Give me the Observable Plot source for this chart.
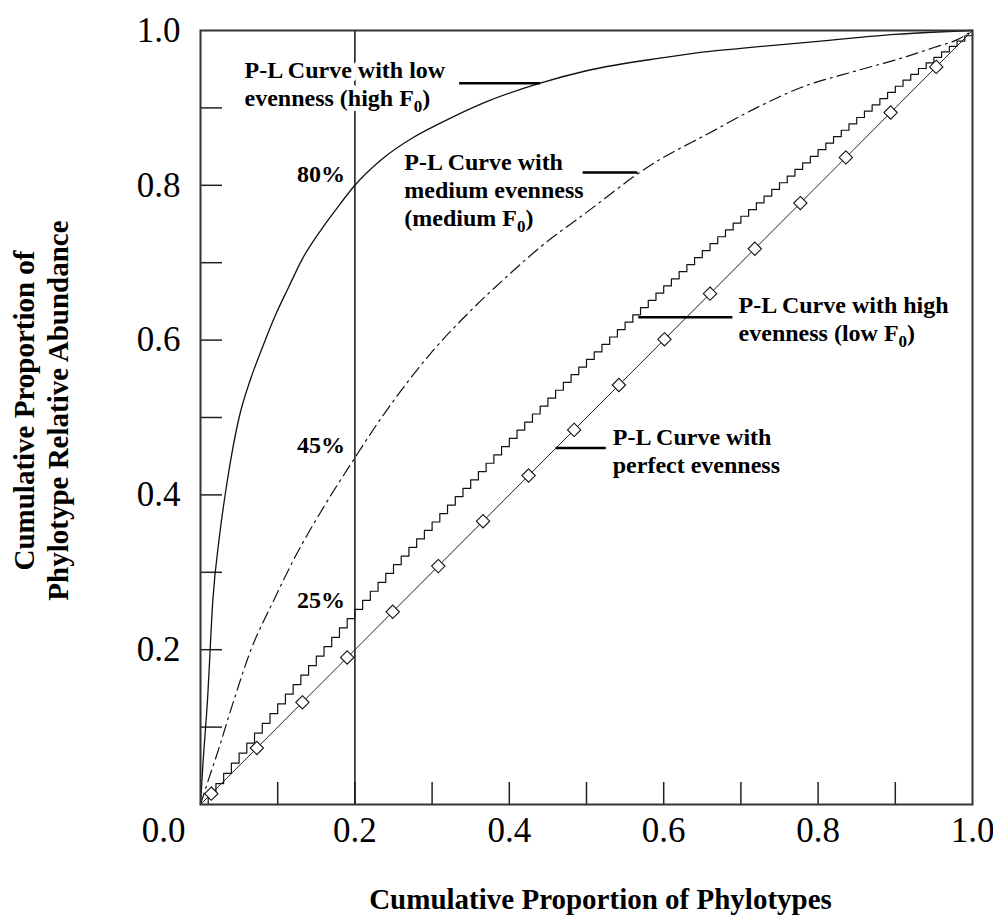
<!DOCTYPE html>
<html>
<head>
<meta charset="utf-8">
<script src="https://cdn.jsdelivr.net/npm/d3@7"></script>
<script src="https://cdn.jsdelivr.net/npm/@observablehq/plot@0.6"></script>
<style>
  html, body { margin: 0; padding: 0; background: white; }
  #chart svg { display: block; }
</style>
</head>
<body>
<div id="chart"></div>
<script>
// ---- Data ----
// Low evenness (high F0) Pareto-Lorenz curve
const lowX = [0, 0.003, 0.009, 0.016, 0.025, 0.035, 0.05, 0.065, 0.08, 0.097, 0.114, 0.132, 0.158, 0.175, 0.2, 0.233, 0.276, 0.31, 0.363, 0.44, 0.5, 0.6, 0.65, 0.7, 0.8, 0.9, 1];
const lowY = [0, 0.05, 0.134, 0.264, 0.35, 0.42, 0.5, 0.55, 0.59, 0.632, 0.668, 0.705, 0.745, 0.768, 0.8, 0.832, 0.862, 0.88, 0.905, 0.932, 0.948, 0.965, 0.972, 0.977, 0.986, 0.995, 1];
// Medium evenness (medium F0) curve
const medX = [0, 0.009, 0.023, 0.043, 0.065, 0.095, 0.12, 0.16, 0.2, 0.229, 0.26, 0.3, 0.35, 0.4, 0.44, 0.5, 0.583, 0.66, 0.72, 0.777, 0.85, 0.907, 0.95, 0.984, 1];
const medY = [0, 0.028, 0.07, 0.134, 0.199, 0.264, 0.315, 0.385, 0.448, 0.492, 0.535, 0.585, 0.638, 0.685, 0.72, 0.765, 0.826, 0.868, 0.9, 0.926, 0.948, 0.964, 0.978, 0.99, 1];
// High evenness (low F0): relative abundance (%) of the 100 ranked phylotypes
const highAbund = [
  1.36,1.34,1.33,1.31,1.30,1.29,1.28,1.27,1.26,1.26,
  1.25,1.24,1.23,1.23,1.22,1.22,1.21,1.21,1.20,1.19,
  1.18,1.17,1.16,1.14,1.13,1.12,1.11,1.10,1.10,1.09,
  1.09,1.09,1.09,1.08,1.08,1.08,1.08,1.07,1.07,1.07,
  1.06,1.05,1.04,1.03,1.02,1.02,1.01,1.00,0.99,0.98,
  0.97,0.97,0.96,0.96,0.95,0.95,0.94,0.94,0.93,0.93,
  0.92,0.92,0.91,0.91,0.90,0.90,0.89,0.89,0.88,0.88,
  0.87,0.87,0.87,0.86,0.86,0.86,0.86,0.85,0.85,0.85,
  0.84,0.84,0.83,0.83,0.82,0.82,0.81,0.81,0.80,0.80,
  0.78,0.76,0.75,0.73,0.72,0.71,0.70,0.69,0.68,0.68
];
// Perfect evenness line and its diamond markers
const perfectX = [0, 1];
const perfectY = [0, 1];
const perfectMarks = [0.014, 0.073, 0.132, 0.19, 0.249, 0.308, 0.366, 0.425, 0.484, 0.542, 0.601, 0.66, 0.718, 0.777, 0.836, 0.894, 0.953];

// Reference line at 20% of phylotypes and the read-off percentages
const refX = [0.2];
const pctValues = [0.8, 0.45, 0.25];
const pctLabels = ["80%", "45%", "25%"];

// Annotation texts, anchors (data units) and leader lines
const labelTexts = [
  "P-L Curve with low\nevenness (high F0)",
  "P-L Curve with\nmedium evenness\n(medium F0)",
  "P-L Curve with high\nevenness (low F0)",
  "P-L Curve with\nperfect evenness"
];
const labelX = [0.057, 0.264, 0.697, 0.534];
const labelY = [0.965, 0.846, 0.6606, 0.49];
const leaderX1 = [0.335, 0.495, 0.567, 0.46];
const leaderX2 = [0.44, 0.566, 0.689, 0.525];
const leaderY = [0.932, 0.8165, 0.6296, 0.4606];

// Axes
const xLabelTicks = [0.2, 0.4, 0.6, 0.8, 1.0];
const yLabelTicks = [0.2, 0.4, 0.6, 0.8, 1.0];
const minorTicks = [0.1, 0.2, 0.3, 0.4, 0.5, 0.6, 0.7, 0.8, 0.9];
const zeroLabel = ["0.0"];
const xTitle = "Cumulative Proportion of Phylotypes";
const yTitle = "Cumulative Proportion of\nPhylotype Relative Abundance";

// ---- Build tables ----
const low = lowX.map((x, i) => ({x, y: lowY[i]}));
const med = medX.map((x, i) => ({x, y: medY[i]}));
const cum = d3.cumsum(highAbund);
const total = cum[cum.length - 1];
const high = [{x: 0, y: 0}].concat(Array.from(cum, (c, i) => ({x: (i + 1) / highAbund.length, y: c / total})));
const perfect = perfectX.map((x, i) => ({x, y: perfectY[i]}));
const labels = labelTexts.map((t, i) => ({t, x: labelX[i], y: labelY[i]}));
const leaders = leaderX1.map((x1, i) => ({x1, x2: leaderX2[i], y: leaderY[i]}));
const pcts = pctValues.map((v, i) => ({v, t: pctLabels[i]}));

const serif = "'Liberation Serif', 'Times New Roman', 'DejaVu Serif', serif";
const labelOpts = {x: "x", y: "y", text: "t", textAnchor: "start", lineAnchor: "top", lineHeight: 1.17,
  fontSize: 24, fontWeight: "bold"};

const chart = Plot.plot({
  width: 993,
  height: 917,
  marginLeft: 200,
  marginRight: 21,
  marginTop: 30,
  marginBottom: 113,
  x: {domain: [0, 1]},
  y: {domain: [0, 1]},
  style: {fontFamily: serif, color: "black", background: "white", overflow: "visible"},
  marks: [
    // inner tick marks
    Plot.ruleX(minorTicks, {x: d => d, y1: 0, y2: 0, insetTop: -22, stroke: "#222", strokeWidth: 1.5}),
    Plot.ruleY(minorTicks, {y: d => d, x1: 0, x2: 0, insetRight: -22, stroke: "#222", strokeWidth: 1.5}),
    // 20% reference line
    Plot.ruleX(refX, {x: d => d, stroke: "#111", strokeWidth: 1.5}),
    // curves
    Plot.line(perfect, {x: "x", y: "y", stroke: "#222", strokeWidth: 1}),
    Plot.line(high, {x: "x", y: "y", curve: "step-after", stroke: "#111", strokeWidth: 1.2}),
    Plot.line(med, {x: "x", y: "y", curve: "monotone-x", stroke: "#111", strokeWidth: 1.2, strokeDasharray: "12,5,2,5"}),
    Plot.line(low, {x: "x", y: "y", curve: "monotone-x", stroke: "#111", strokeWidth: 1.3}),
    Plot.dot(perfectMarks, {x: d => d, y: d => d, symbol: "diamond2", r: 6, fill: "white", stroke: "#111", strokeWidth: 1.1}),
    // leader lines
    Plot.link(leaders, {x1: "x1", x2: "x2", y1: "y", y2: "y", stroke: "black", strokeWidth: 2.5}),
    // annotations: white knock-out layer, then the text
    Plot.text(labels, {...labelOpts, fill: "white", stroke: "white", strokeWidth: 10}),
    Plot.text(labels, {...labelOpts, fill: "black"}),
    Plot.text(pcts, {x: refX[0], y: "v", text: "t", textAnchor: "end", lineAnchor: "middle", dx: -10, dy: -11,
      fontSize: 24, fontWeight: "bold", fill: "black"}),
    // frame
    Plot.frame({stroke: "#333", strokeWidth: 2}),
    // axes
    Plot.axisX({ticks: xLabelTicks, tickSize: 0, tickPadding: 13, fontSize: 35, tickFormat: d3.format(".1f"), label: null}),
    Plot.axisY({ticks: yLabelTicks, tickSize: 0, tickPadding: 20, fontSize: 35, tickFormat: d3.format(".1f"), label: null}),
    Plot.text(zeroLabel, {x: 0, y: 0, text: d => d, textAnchor: "end", lineAnchor: "top", dx: -15, dy: 13, fontSize: 35}),
    // axis titles
    Plot.text([xTitle], {frameAnchor: "bottom", text: d => d, textAnchor: "middle", lineAnchor: "middle", dx: 14, dy: 95, fontSize: 29, fontWeight: "bold"}),
    Plot.text([yTitle], {frameAnchor: "left", text: d => d, rotate: -90, textAnchor: "middle", lineAnchor: "middle", lineHeight: 1.17, dx: -160, dy: -7, fontSize: 29, fontWeight: "bold"})
  ]
});

// subscript the "0" of F0
const NS = "http://www.w3.org/2000/svg";
d3.select(chart).selectAll("text, tspan").each(function () {
  const el = this;
  if (el.children && el.children.length) return; // only leaf nodes
  const s = el.textContent;
  const i = s.indexOf("F0");
  if (i < 0) return;
  el.textContent = "";
  el.appendChild(document.createTextNode(s.slice(0, i + 1)));
  const sub = document.createElementNS(NS, "tspan");
  sub.setAttribute("dy", "6");
  sub.setAttribute("font-size", "17");
  sub.textContent = "0";
  el.appendChild(sub);
  const rest = document.createElementNS(NS, "tspan");
  rest.setAttribute("dy", "-6");
  rest.textContent = s.slice(i + 2);
  el.appendChild(rest);
});

document.getElementById("chart").appendChild(chart);
</script>
</body>
</html>
